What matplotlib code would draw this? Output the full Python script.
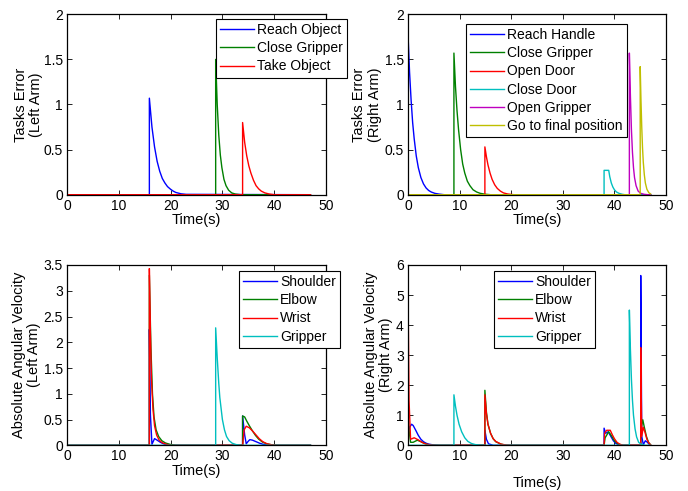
import matplotlib
matplotlib.use("Agg")
import matplotlib.pyplot as plt

plt.rcParams['font.family'] = ['Liberation Sans', 'DejaVu Sans']
plt.rcParams['font.size'] = 10

# ---------------- colours (MATLAB classic) ----------------
BLUE = (0, 0, 1)
GREEN = (0, 0.5, 0)
RED = (1, 0, 0)
CYAN = (0, 0.75, 0.75)
MAGENTA = (0.75, 0, 0.75)
YELLOW = (0.75, 0.75, 0)

# ---------------- Top-left: Tasks Error (Left Arm) ----------------
tl_labels = ["Reach Object", "Close Gripper", "Take Object"]
tl_reach_t = [0, 15.9, 15.9, 16.4, 16.9, 17.4, 17.9, 18.4, 18.9, 19.4, 20.0, 20.5, 21.0, 22.0, 23.0, 47]
tl_reach_y = [0, 0, 1.07, 0.75, 0.53, 0.37, 0.26, 0.18, 0.13, 0.09, 0.06, 0.04, 0.025, 0.01, 0.004, 0]
tl_close_t = [0, 28.7, 28.7, 29.0, 29.3, 29.6, 29.9, 30.3, 30.7, 31.2, 31.8, 32.5, 33.5, 47]
tl_close_y = [0, 0, 1.5, 1.0, 0.66, 0.44, 0.3, 0.17, 0.1, 0.05, 0.02, 0.007, 0, 0]
tl_take_t = [0, 33.9, 33.9, 34.3, 34.7, 35.1, 35.5, 36.0, 36.5, 37.0, 37.5, 38.2, 39.0, 40.0, 47]
tl_take_y = [0, 0, 0.8, 0.58, 0.43, 0.32, 0.24, 0.16, 0.1, 0.065, 0.04, 0.02, 0.008, 0, 0]

# ---------------- Top-right: Tasks Error (Right Arm) ----------------
tr_labels = ["Reach Handle", "Close Gripper", "Open Door", "Close Door",
             "Open Gripper", "Go to final position"]
tr_reach_t = [0, 0, 0.3, 0.6, 0.9, 1.2, 1.6, 2.0, 2.5, 3.0, 3.5, 4.0, 4.5, 5.2, 6.0, 7.0, 47]
tr_reach_y = [0, 1.78, 1.36, 1.05, 0.8, 0.62, 0.43, 0.3, 0.19, 0.12, 0.075, 0.047, 0.03, 0.015, 0.007, 0, 0]
tr_close_t = [0, 8.9, 8.9, 9.2, 9.5, 9.8, 10.2, 10.6, 11.0, 11.5, 12.0, 12.6, 13.3, 14.0, 15.0, 16.0, 47]
tr_close_y = [0, 0, 1.57, 1.2, 0.93, 0.72, 0.5, 0.34, 0.24, 0.15, 0.1, 0.055, 0.03, 0.015, 0.005, 0, 0]
tr_open_t = [0, 14.9, 14.9, 15.2, 15.5, 15.9, 16.3, 16.8, 17.3, 17.9, 18.5, 19.3, 20.5, 47]
tr_open_y = [0, 0, 0.53, 0.42, 0.33, 0.24, 0.17, 0.11, 0.07, 0.04, 0.02, 0.008, 0, 0]
tr_cdoor_t = [0, 38.0, 38.0, 38.9, 39.1, 39.4, 39.7, 40.0, 40.4, 40.9, 41.5, 42.0, 47]
tr_cdoor_y = [0, 0, 0.27, 0.27, 0.2, 0.13, 0.085, 0.055, 0.03, 0.015, 0.005, 0, 0]
tr_ogrip_t = [0, 42.9, 42.9, 43.1, 43.3, 43.5, 43.7, 43.9, 44.2, 44.6, 45.1, 45.8, 46.5, 47]
tr_ogrip_y = [0, 0, 1.57, 1.1, 0.72, 0.47, 0.3, 0.19, 0.1, 0.04, 0.015, 0.004, 0, 0]
tr_final_t = [0, 45.0, 45.0, 45.15, 45.3, 45.45, 45.6, 45.8, 46.0, 46.3, 46.7, 47.0]
tr_final_y = [0, 0, 1.42, 1.05, 0.75, 0.52, 0.36, 0.22, 0.13, 0.06, 0.02, 0.01]

# ---------------- Bottom-left: Absolute Angular Velocity (Left Arm) ----------------
joint_labels = ["Shoulder", "Elbow", "Wrist", "Gripper"]
bl_sh_t = [0, 15.9, 15.9, 16.1, 16.4, 16.9, 17.4, 18.0, 18.6, 19.2, 20.0,
           33.9, 33.9, 34.3, 34.6, 35.0, 35.3, 35.8, 36.5, 37.2, 38.0, 38.8, 47]
bl_sh_y = [0, 0, 2.25, 0.6, 0.02, 0.13, 0.1, 0.06, 0.03, 0.01, 0,
           0, 0.57, 0.2, 0.03, 0.08, 0.11, 0.1, 0.07, 0.04, 0.015, 0, 0]
bl_el_t = [0, 15.9, 15.9, 16.2, 16.5, 16.8, 17.2, 17.7, 18.3, 19.0, 20.0, 21.0,
           33.9, 33.9, 34.3, 34.7, 35.2, 35.8, 36.4, 37.0, 37.7, 38.5, 39.5, 40.5, 47]
bl_el_y = [0, 0, 3.3, 1.9, 1.0, 0.55, 0.3, 0.17, 0.09, 0.045, 0.015, 0,
           0, 0.57, 0.55, 0.47, 0.38, 0.28, 0.19, 0.12, 0.065, 0.03, 0.01, 0, 0]
bl_wr_t = [0, 15.9, 15.9, 16.1, 16.3, 16.6, 16.9, 17.3, 17.8, 18.4, 19.2, 20.0,
           33.9, 34.2, 34.6, 35.2, 35.8, 36.5, 37.1, 37.8, 38.6, 39.5, 40.5, 47]
bl_wr_y = [0, 0, 3.43, 2.2, 1.3, 0.7, 0.38, 0.2, 0.1, 0.05, 0.02, 0,
           0, 0.3, 0.37, 0.34, 0.28, 0.2, 0.13, 0.07, 0.03, 0.01, 0, 0]
bl_gr_t = [0, 28.7, 28.7, 29.0, 29.3, 29.5, 30.0, 30.4, 30.8, 31.3, 31.9, 32.6, 33.5, 47]
bl_gr_y = [0, 0, 2.28, 1.7, 1.2, 0.93, 0.5, 0.3, 0.17, 0.09, 0.04, 0.015, 0, 0]

# ---------------- Bottom-right: Absolute Angular Velocity (Right Arm) ----------------
br_sh_t = [0, 0.3, 0.7, 1.0, 1.5, 2.0, 2.5, 3.0, 3.5, 4.0, 5.0, 6.0,
           14.9, 14.9, 15.2, 15.6, 16.5,
           38.0, 38.0, 38.3, 38.8, 39.3, 39.8, 40.3, 40.8, 41.5,
           45.1, 45.1, 45.3, 45.6, 46.0, 46.4, 46.8, 47]
br_sh_y = [0.3, 0.6, 0.7, 0.66, 0.5, 0.33, 0.2, 0.12, 0.07, 0.04, 0.01, 0,
           0, 0.5, 0.2, 0.05, 0,
           0, 0.57, 0.4, 0.45, 0.3, 0.15, 0.06, 0.02, 0,
           0, 5.65, 0.3, 0.02, 0.15, 0.1, 0.02, 0]
br_el_t = [0, 0.2, 0.5, 1.0, 1.8, 2.5, 3.2, 4.0, 4.5,
           14.9, 14.9, 15.2, 15.5, 16.0, 16.5, 17.0, 18.0, 19.0,
           38.0, 38.2, 38.9, 39.5, 40.0, 40.7, 41.5,
           45.1, 45.1, 45.5, 45.8, 46.2, 46.6, 47]
br_el_y = [1.0, 0.5, 0.1, 0.1, 0.17, 0.12, 0.06, 0.02, 0,
           0, 1.83, 1.1, 0.7, 0.4, 0.22, 0.12, 0.04, 0,
           0, 0.25, 0.45, 0.3, 0.15, 0.05, 0,
           0, 0.5, 0.85, 0.6, 0.3, 0.1, 0.02]
br_wr_t = [0, 0.2, 0.5, 1.2, 2.0, 2.7, 3.5, 4.5, 5.5,
           14.9, 14.9, 15.2, 15.5, 16.0, 16.5, 17.0, 18.0, 19.0, 20.0,
           38.0, 38.1, 38.5, 39.2, 39.6, 40.0, 40.5, 41.0, 41.7,
           45.1, 45.1, 45.3, 45.6, 45.9, 46.3, 46.7, 47]
br_wr_y = [5.22, 1.5, 0.2, 0.25, 0.18, 0.1, 0.04, 0.01, 0,
           0, 1.68, 1.05, 0.7, 0.4, 0.22, 0.13, 0.04, 0.01, 0,
           0, 0.4, 0.5, 0.5, 0.35, 0.22, 0.1, 0.04, 0,
           0, 3.25, 0.3, 0.6, 0.45, 0.2, 0.07, 0.02]
br_gr_t = [0, 8.9, 8.9, 9.2, 9.5, 9.9, 10.4, 11.0, 11.6, 12.3, 13.0, 14.0, 15.0,
           42.9, 42.9, 43.1, 43.3, 43.5, 43.7, 44.0, 44.3, 44.7, 45.2, 46.0, 47]
br_gr_y = [0, 0, 1.68, 1.3, 1.0, 0.7, 0.45, 0.25, 0.13, 0.06, 0.025, 0.005, 0,
           0, 4.5, 3.2, 2.2, 1.5, 1.0, 0.55, 0.28, 0.1, 0.03, 0, 0]

W, H = 688, 491
fig = plt.figure(figsize=(W / 100, H / 100), dpi=100)


def make_axes(left_px, top_px, right_px, bottom_px):
    return fig.add_axes([left_px / W, 1 - bottom_px / H,
                         (right_px - left_px) / W, (bottom_px - top_px) / H])


def style(ax, ymax, yticks, ylabel, ylab_x, xlab_y):
    ax.set_xlim(0, 50)
    ax.set_ylim(0, ymax)
    ax.set_xticks([0, 10, 20, 30, 40, 50])
    ax.set_yticks(yticks)
    ax.set_yticklabels([("%g" % v) for v in yticks])
    ax.tick_params(direction='in', top=True, right=True, length=3.5,
                   width=0.6, labelsize=10, pad=3)
    for s in ax.spines.values():
        s.set_linewidth(0.9)
        s.set_color('black')
    ax.set_xlabel("Time(s)", fontsize=10.5, va='center')
    ax.xaxis.set_label_coords(0.5, xlab_y)
    ax.set_ylabel(ylabel, fontsize=10.5, va='center', linespacing=1.1)
    ax.yaxis.set_label_coords(ylab_x, 0.5)


def legend(ax, x_px, y_px, axbox):
    l, t, r, b = axbox
    lg = ax.legend(loc='upper left',
                   bbox_to_anchor=((x_px - l) / (r - l), (b - y_px) / (b - t)),
                   frameon=True, fancybox=False, framealpha=1,
                   edgecolor='black', fontsize=10, handlelength=2.4,
                   handletextpad=0.25, labelspacing=0.3, borderpad=0.3,
                   borderaxespad=0)
    lg.get_frame().set_linewidth(0.8)
    return lg


LW = 1.0

# Top-left
tl_box = (67, 14.3, 326, 194.7)
ax1 = make_axes(*tl_box)
ax1.plot(tl_reach_t, tl_reach_y, color=BLUE, lw=LW, label=tl_labels[0])
ax1.plot(tl_close_t, tl_close_y, color=GREEN, lw=LW, label=tl_labels[1])
ax1.plot(tl_take_t, tl_take_y, color=RED, lw=LW, label=tl_labels[2])
style(ax1, 2, [0, 0.5, 1, 1.5, 2], "Tasks Error\n(Left Arm)", -0.15, -0.14)
legend(ax1, 216, 19, tl_box)

# Top-right
tr_box = (408, 14.3, 666, 194.7)
ax2 = make_axes(*tr_box)
ax2.plot(tr_reach_t, tr_reach_y, color=BLUE, lw=LW, label=tr_labels[0])
ax2.plot(tr_close_t, tr_close_y, color=GREEN, lw=LW, label=tr_labels[1])
ax2.plot(tr_open_t, tr_open_y, color=RED, lw=LW, label=tr_labels[2])
ax2.plot(tr_cdoor_t, tr_cdoor_y, color=CYAN, lw=LW, label=tr_labels[3])
ax2.plot(tr_ogrip_t, tr_ogrip_y, color=MAGENTA, lw=LW, label=tr_labels[4])
ax2.plot(tr_final_t, tr_final_y, color=YELLOW, lw=LW, label=tr_labels[5])
style(ax2, 2, [0, 0.5, 1, 1.5, 2], "Tasks Error\n(Right Arm)", -0.159, -0.14)
legend(ax2, 466, 24, tr_box)

# Bottom-left
bl_box = (67, 265, 326, 445.3)
ax3 = make_axes(*bl_box)
ax3.plot(bl_sh_t, bl_sh_y, color=BLUE, lw=LW, label=joint_labels[0])
ax3.plot(bl_el_t, bl_el_y, color=GREEN, lw=LW, label=joint_labels[1])
ax3.plot(bl_wr_t, bl_wr_y, color=RED, lw=LW, label=joint_labels[2])
ax3.plot(bl_gr_t, bl_gr_y, color=CYAN, lw=LW, label=joint_labels[3])
style(ax3, 3.5, [0, 0.5, 1, 1.5, 2, 2.5, 3, 3.5],
      "Absolute Angular Velocity\n(Left Arm)", -0.156, -0.143)
legend(ax3, 239, 271, bl_box)

# Bottom-right
br_box = (408, 265, 666, 445.3)
ax4 = make_axes(*br_box)
ax4.plot(br_sh_t, br_sh_y, color=BLUE, lw=LW, label=joint_labels[0])
ax4.plot(br_el_t, br_el_y, color=GREEN, lw=LW, label=joint_labels[1])
ax4.plot(br_wr_t, br_wr_y, color=RED, lw=LW, label=joint_labels[2])
ax4.plot(br_gr_t, br_gr_y, color=CYAN, lw=LW, label=joint_labels[3])
style(ax4, 6, [0, 1, 2, 3, 4, 5, 6],
      "Absolute Angular Velocity\n(Right Arm)", -0.114, -0.21)
legend(ax4, 494, 271, br_box)

fig.savefig("out.png", dpi=100)
